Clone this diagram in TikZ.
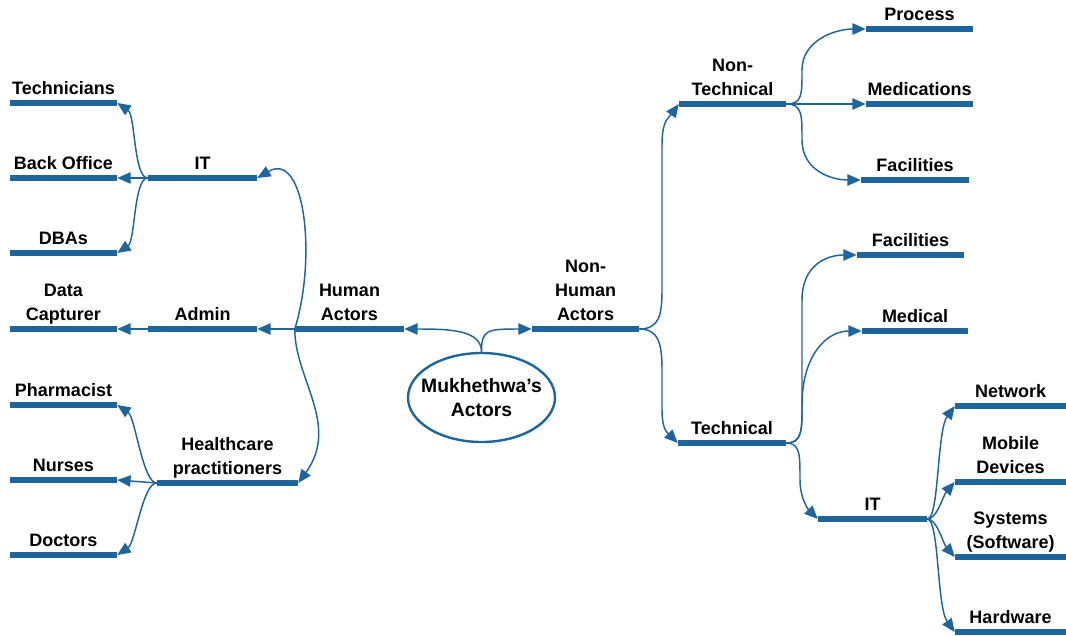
\documentclass[tikz,border=0pt]{standalone}
\usepackage{fontspec}
\setmainfont{Liberation Sans}
\usetikzlibrary{arrows.meta,shapes.geometric}
\definecolor{mapblue}{RGB}{30,101,158}

\begin{document}
\begin{tikzpicture}[x=0.75pt, y=-0.75pt,
    bar/.style={fill=mapblue, inner sep=0pt, minimum height=4pt, minimum width=#1*0.75pt},
    bar/.default=107,
    lbl/.style={font=\bfseries\fontsize{13.5}{18}\selectfont, align=center, inner sep=0pt, text depth=0pt, label distance=4.3pt},
    conn/.style={draw=mapblue, line width=1.1pt, -{Triangle[length=10pt,width=8.5pt]}}]
    \useasboundingbox (0,0) rectangle (1066,635);

    % Centre
    \node[ellipse, draw=mapblue, line width=1.8pt, minimum width=147*0.75pt, minimum height=89*0.75pt,
          inner xsep=-7pt, inner ysep=0pt, font=\bfseries\fontsize{14.5}{18.5}\selectfont, align=center] (root) at (481.5,397.5) {Mukhethwa’s\\Actors};

    % Human side
    \node[bar=109, label={[lbl]above:{Human\\Actors}}] (human) at (349.5,329) {};
    \node[bar=109, label={[lbl]above:IT}] (itL) at (202.5,178) {};
    \node[bar=109, label={[lbl]above:Admin}] (admin) at (202.5,329) {};
    \node[bar=141, label={[lbl]above:{Healthcare\\practitioners}}] (health) at (227.5,483) {};

    \node[bar, label={[lbl]above:Technicians}] (techn) at (63.5,103) {};
    \node[bar, label={[lbl]above:Back Office}] (backoff) at (63.5,178) {};
    \node[bar, label={[lbl]above:DBAs}] (dbas) at (63.5,253) {};
    \node[bar, label={[lbl]above:{Data\\Capturer}}] (datacap) at (63.5,329) {};
    \node[bar, label={[lbl]above:Pharmacist}] (pharm) at (63.5,405) {};
    \node[bar, label={[lbl]above:Nurses}] (nurses) at (63.5,480) {};
    \node[bar, label={[lbl]above:Doctors}] (doctors) at (63.5,555) {};

    % Non-human side
    \node[bar, label={[lbl]above:{Non-\\Human\\Actors}}] (nonhuman) at (585.5,329) {};
    \node[bar, label={[lbl]above:{Non-\\Technical}}] (nontech) at (732.5,104) {};
    \node[bar=108, label={[lbl]above:Technical}] (technical) at (732,443) {};

    \node[bar, label={[lbl]above:Process}] (process) at (919.5,29) {};
    \node[bar, label={[lbl]above:Medications}] (medic) at (919.5,104) {};
    \node[bar=108, label={[lbl]above:Facilities}] (facilA) at (915,180) {};

    \node[bar, label={[lbl]above:Facilities}] (facilB) at (910.5,255) {};
    \node[bar=106, label={[lbl]above:Medical}] (medical) at (915,331) {};
    \node[bar=109, label={[lbl]above:IT}] (itR) at (872.5,519) {};

    \node[bar=111, label={[lbl]above:Network}] (network) at (1010.5,406) {};
    \node[bar=111, label={[lbl]above:{Mobile\\Devices}}] (mobile) at (1010.5,482) {};
    \node[bar=111, label={[lbl]above:{Systems\\(Software)}}] (systems) at (1010.5,557) {};
    \node[bar=111, label={[lbl]above:Hardware}] (hardware) at (1010.5,632) {};

    % Connectors from the centre
    \draw[conn] (root.north) .. controls +(0,-22) and +(45,0) .. (human.east);
    \draw[conn] (root.north) .. controls +(0,-22) and +(-45,0) .. (nonhuman.west);

    % Human actors
    \draw[conn] (human.west) -- (admin.east);
    \draw[conn] (human.west) .. controls +(22,-70) and +(48,-28) .. (itL.east);
    \draw[conn] (human.west) .. controls +(0,50) and +(42,-58) .. (health.east);

    \draw[conn] (itL.west) .. controls +(-14,0) and +(18,12) .. (techn.east);
    \draw[conn] (itL.west) -- (backoff.east);
    \draw[conn] (itL.west) .. controls +(-14,0) and +(18,-12) .. (dbas.east);
    \draw[conn] (admin.west) -- (datacap.east);
    \draw[conn] (health.west) .. controls +(-14,0) and +(18,12) .. (pharm.east);
    \draw[conn] (health.west) -- (nurses.east);
    \draw[conn] (health.west) .. controls +(-14,0) and +(18,-12) .. (doctors.east);

    % Non-human actors
    \draw[conn] (nonhuman.east) .. controls +(20,0) and +(0,25) .. (662,290) -- (662,145)
        .. controls +(0,-25) and +(-10,14) .. (nontech.west);
    \draw[conn] (nonhuman.east) .. controls +(20,0) and +(0,-25) .. (662,370) -- (662,410)
        .. controls +(0,20) and +(-10,-10) .. (technical.west);

    \draw[conn] (nontech.east) .. controls +(16,0) and +(0,25) .. (802,70)
        .. controls +(0,-30) and +(-30,0) .. (process.west);
    \draw[conn] (nontech.east) -- (medic.west);
    \draw[conn] (nontech.east) .. controls +(16,0) and +(0,-25) .. (802,140)
        .. controls +(0,30) and +(-30,0) .. (facilA.west);

    \draw[conn] (technical.east) .. controls +(16,0) and +(0,25) .. (802,405) -- (802,300)
        .. controls +(0,-35) and +(-30,0) .. (facilB.west);
    \draw[conn] (technical.east) .. controls +(16,0) and +(0,25) .. (802,405)
        .. controls +(0,-50) and +(-35,0) .. (medical.west);
    \draw[conn] (technical.east) .. controls +(14,0) and +(0,-25) .. (800,480)
        .. controls +(0,20) and +(-8,-8) .. (itR.west);

    \draw[conn] (itR.east) .. controls +(12,0) and +(-18,25) .. (network.west);
    \draw[conn] (itR.east) .. controls +(10,0) and +(-12,14) .. (mobile.west);
    \draw[conn] (itR.east) .. controls +(10,0) and +(-12,-14) .. (systems.west);
    \draw[conn] (itR.east) .. controls +(12,0) and +(-18,-25) .. (hardware.west);
\end{tikzpicture}
\end{document}
